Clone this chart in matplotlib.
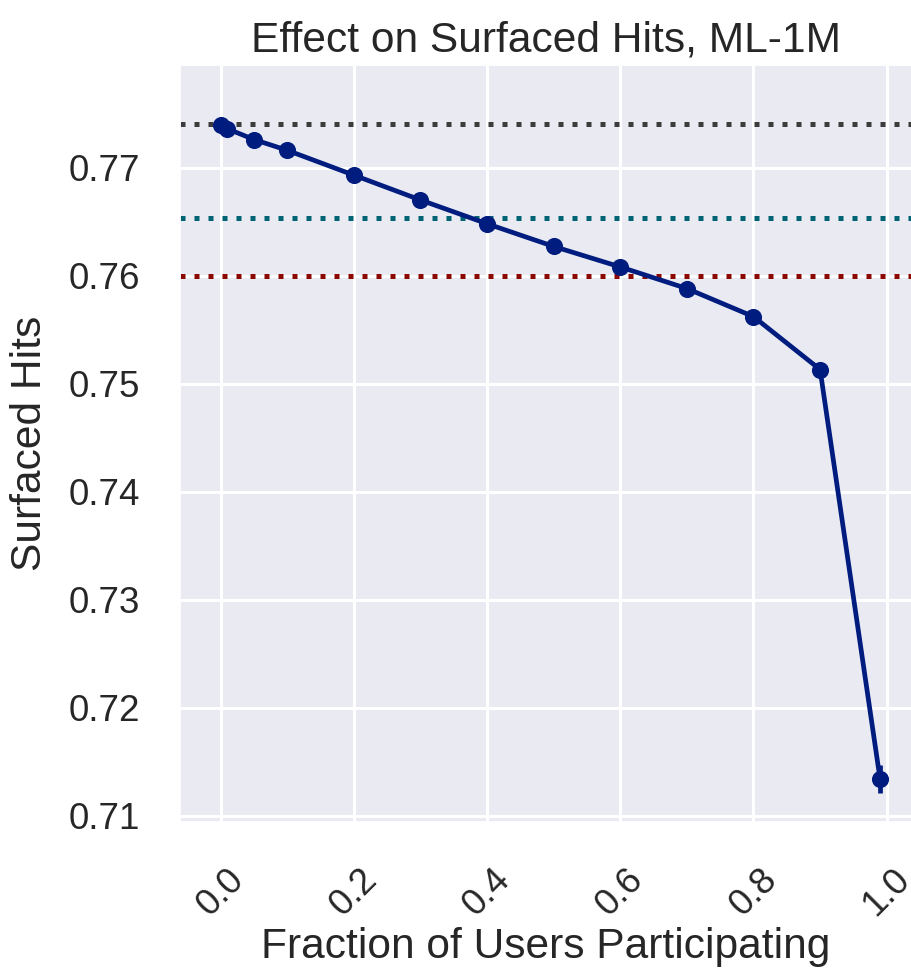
import matplotlib
matplotlib.use("Agg")
import matplotlib.pyplot as plt
import seaborn as sns
import numpy as np

fractions = [0.0, 0.01, 0.05, 0.1, 0.2, 0.3, 0.4, 0.5, 0.6, 0.7, 0.8, 0.9, 0.99]
surfaced_hits = [0.7739, 0.7736, 0.7726, 0.7716, 0.7693, 0.7670, 0.7648, 0.7627, 0.7608, 0.7588, 0.7562, 0.7513, 0.7134]
hits_err = [0.0001, 0.0001, 0.0001, 0.0001, 0.0001, 0.0001, 0.0001, 0.0001, 0.0001, 0.0001, 0.0001, 0.0002, 0.0013]
baseline_levels = [0.7740, 0.76535, 0.7600]
baseline_colors = ["#3c3c3c", "#006374", "#8c0800"]

sns.set_theme(style="darkgrid")
plt.rcParams['font.family'] = ['Liberation Sans', 'DejaVu Sans']

fig = plt.figure(figsize=(9.12, 9.73), dpi=100)
ax = fig.add_axes([180/912, 1-822/973, 1-180/912, (822-65)/973])

for lvl, c in zip(baseline_levels, baseline_colors):
    ax.axhline(lvl, color=c, linestyle=(0, (1, 1.8)), linewidth=3.6)

ax.errorbar(fractions, surfaced_hits, yerr=hits_err, color="#001c7f",
            marker="o", markersize=11.3, linewidth=3.4, elinewidth=3.4, capsize=0)

ax.set_xlim(-0.061, 1.038)
ax.set_ylim(0.7094, 0.7795)
ax.set_xticks([0.0, 0.2, 0.4, 0.6, 0.8, 1.0])
ax.set_yticks([0.71, 0.72, 0.73, 0.74, 0.75, 0.76, 0.77])
ax.tick_params(axis='both', labelsize=26.5, colors="#262626", pad=23)
for lab in ax.get_xticklabels():
    lab.set_rotation(45)
ax.grid(linewidth=2.2, color="white")

ax.set_title("Effect on Surfaced Hits, ML-1M", fontsize=30.6, color="#262626", pad=10)
ax.set_xlabel("Fraction of Users Participating", fontsize=30.6, color="#262626", labelpad=3)
ax.set_ylabel("Surfaced Hits", fontsize=30.6, color="#262626", labelpad=13)

fig.savefig("out.png", dpi=100)
